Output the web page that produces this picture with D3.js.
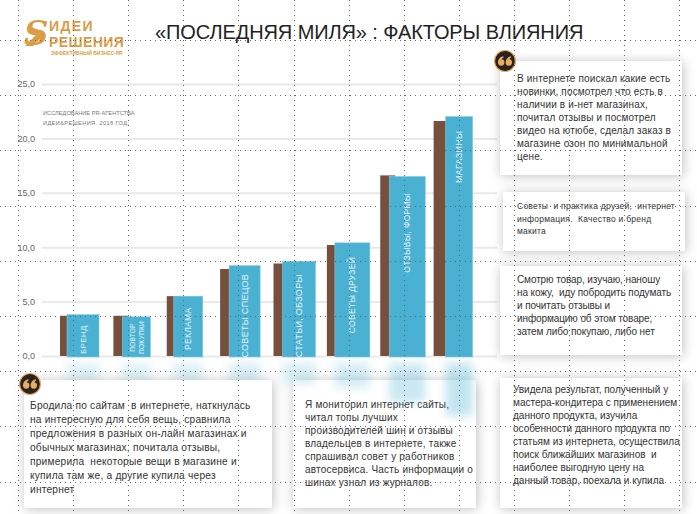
<!DOCTYPE html>
<html>
<head>
<meta charset="utf-8">
<script src="https://cdn.jsdelivr.net/npm/d3@7"></script>
<style>
  html, body { margin: 0; padding: 0; background: #fff; }
  svg { display: block; }
  text { font-family: "Liberation Sans", Arial, sans-serif; }
</style>
</head>
<body>
<div class="chart"></div>
<script>
// Chart data
var categories = ["БРЕНД", "ПОВТОР ПОКУПКИ", "РЕКЛАМА", "СОВЕТЫ СПЕЦОВ", "СТАТЬИ, ОБЗОРЫ", "СОВЕТЫ ДРУЗЕЙ", "ОТЗЫВЫ, ФОРМЫ", "МАГАЗИНЫ"];
var brownValues = [3.7, 3.7, 5.5, 8.0, 8.5, 10.2, 16.6, 21.6];
var blueValues = [3.8, 3.6, 5.5, 8.3, 8.7, 10.4, 16.5, 22.0];
var yTicks = [0, 5, 10, 15, 20, 25];

// Quotes
var quoteTopRight = ["В интернете поискал какие есть", "новинки, посмотрел что есть в", "наличии в и-нет магазинах,", "почитал отзывы и посмотрел", "видео на ютюбе, сделал заказ в", "магазине озон по минимальной", "цене."];
var quoteBrand = ["Советы  и практика друзей,  интернет", "информация.  Качество и бренд", "макита"];
var quoteSkin = ["Смотрю товар, изучаю, наношу", "на кожу,  иду побродить подумать", "и почитать отзывы и", "информацию об этом товаре,", "затем либо покупаю, либо нет"];
var quoteBaker = ["Увидела результат, полученный у", "мастера-кондитера с применением", "данного продукта, изучила", "особенности данного продукта по", "статьям из интернета, осуществила", "поиск ближайших магазинов  и", "наиболее выгодную цену на", "данный товар, поехала и купила"];
var quoteLeft = ["Бродила по сайтам  в интернете, наткнулась", "на интересную для себя вещь, сравнила", "предложения в разных он-лайн магазинах и", "обычных магазинах, почитала отзывы,", "примерила  некоторые вещи в магазине и", "купила там же, а другие купила через", "интернет"];
var quoteTyres = ["Я мониторил интернет сайты,", "читал топы лучших", "производителей шин и отзывы", "владельцев в интернете, также", "спрашивал совет у работников", "автосервиса. Часть информации о", "шинах узнал из журналов."];

var svgWidth = 697;
var svgHeight = 514;

var svg = d3.select(".chart")
  .append("svg")
  .attr("width", svgWidth)
  .attr("height", svgHeight);

var defs = svg.append("defs");

var shadow = defs.append("filter")
  .attr("id", "boxShadow")
  .attr("x", "-20%").attr("y", "-20%")
  .attr("width", "140%").attr("height", "140%");
shadow.append("feDropShadow")
  .attr("dx", 1).attr("dy", 1)
  .attr("stdDeviation", 6)
  .attr("flood-color", "#000")
  .attr("flood-opacity", 0.25);

var blur = defs.append("filter")
  .attr("id", "glow")
  .attr("x", "-50%").attr("y", "-50%")
  .attr("width", "200%").attr("height", "200%");
blur.append("feGaussianBlur").attr("stdDeviation", 5);

// Scales
var yScale = d3.scaleLinear().domain([0, 25]).range([356, 84]);
var xScale = d3.scaleBand().domain(categories).range([60, 487]).padding(0);

// each blue bar in the reference is placed by hand, so offset and width go per category
var blueOffset = d3.scaleOrdinal().domain(categories).range([7, 9, 7, 9, 9, 8, 9, 12]);
var blueWidth = d3.scaleOrdinal().domain(categories).range([32, 28, 29, 31, 33, 35, 36, 27]);
var labelLevel = d3.scaleOrdinal().domain(categories).range([1.5, 1.7, 2.5, 3.7, 3.7, 5.6, 11.3, 18.3]);
var labelSize = d3.scaleOrdinal().domain(categories).range([8, 6.5, 8.5, 9, 9, 8.5, 8.5, 9]);

// Y axis with grid lines
var leftAxis = d3.axisLeft(yScale)
  .tickValues(yTicks)
  .tickSize(-455)
  .tickPadding(7)
  .tickFormat(function(d) { return d3.format(".1f")(d).replace(".", ","); });

var axisGroup = svg.append("g")
  .attr("transform", "translate(42, 0)")
  .call(leftAxis);
axisGroup.select(".domain").remove();
axisGroup.selectAll("line")
  .attr("stroke", "#e9e9e9")
  .attr("stroke-width", 2);
axisGroup.selectAll("text")
  .attr("fill", "#666")
  .style("font-size", "9px");

// Quote boxes
function drawBox(x, y, w, h, lines, textX, firstBaseline, step, size, spacing) {
  svg.append("rect")
    .attr("x", x).attr("y", y)
    .attr("width", w).attr("height", h)
    .attr("fill", "#fff")
    .attr("filter", "url(#boxShadow)");
  svg.append("g").selectAll("text")
    .data(lines)
    .enter()
    .append("text")
    .attr("x", textX)
    .attr("y", function(d, i) { return firstBaseline + i * step; })
    .attr("fill", "#333")
    .style("white-space", "pre")
    .style("font-size", size + "px")
    .style("letter-spacing", spacing + "px")
    .text(function(d) { return d; });
}

// this box sits under the reflection, the others above it
drawBox(293, 380, 183, 128, quoteTyres, 305, 408, 13, 10, 0.2);

// Reflection under the bars
svg.append("g").selectAll("rect")
  .data(categories)
  .enter()
  .append("rect")
  .attr("x", function(d) { return xScale(d) + blueOffset(d); })
  .attr("y", yScale(0) + 7)
  .attr("width", function(d) { return blueWidth(d); })
  .attr("height", function(d, i) { return Math.max(20, (yScale(0) - yScale(blueValues[i])) * 0.22); })
  .attr("fill", "#4bb1d3")
  .attr("opacity", function(d, i) { return 0.14 + blueValues[i] * 0.009; })
  .attr("filter", "url(#glow)");

// Bars
svg.append("g").selectAll("rect")
  .data(categories)
  .enter()
  .append("rect")
  .attr("x", function(d) { return xScale(d); })
  .attr("y", function(d, i) { return yScale(brownValues[i]); })
  .attr("width", function(d) { return blueOffset(d) + 6; })
  .attr("height", function(d, i) { return yScale(0) - yScale(brownValues[i]); })
  .attr("fill", "#774f3d");

svg.append("g").selectAll("rect")
  .data(categories)
  .enter()
  .append("rect")
  .attr("x", function(d) { return xScale(d) + blueOffset(d); })
  .attr("y", function(d, i) { return yScale(blueValues[i]); })
  .attr("width", function(d) { return blueWidth(d); })
  .attr("height", function(d, i) { return yScale(0) - yScale(blueValues[i]) + 1; })
  .attr("fill", "#4bb1d3")
  .attr("stroke", "#7fcbe3")
  .attr("stroke-width", 0.6);

// Vertical labels inside the bars
categories.forEach(function(d) {
  var cx = xScale(d) + blueOffset(d) + blueWidth(d) / 2;
  var cy = yScale(labelLevel(d));
  var parts = d === "ПОВТОР ПОКУПКИ" ? d.split(" ") : [d];
  parts.forEach(function(part, i) {
    svg.append("text")
      .attr("transform", "translate(" + (cx + (i - (parts.length - 1) / 2) * 9.5 + 3) + "," + cy + ") rotate(-90)")
      .attr("text-anchor", "middle")
      .attr("fill", "#e3f3f8")
      .style("font-size", labelSize(d) + "px")
      .style("letter-spacing", "0.3px")
      .text(part);
  });
});

drawBox(500, 61, 182, 114, quoteTopRight, 517, 82, 13, 10, 0.15);
drawBox(503, 192, 182, 59, quoteBrand, 517, 209, 12.5, 8.5, 0.25);
drawBox(500, 266, 182, 89, quoteSkin, 517, 283, 13, 10, -0.1);
drawBox(500, 378, 182, 130, quoteBaker, 513, 393, 13, 10, 0);
drawBox(24, 380, 248, 128, quoteLeft, 30, 409, 14, 10.2, 0.2);

// Quote badges, the mark is two drops drawn as an icon
var quoteDrop = "M-3.2 1.5 C-3.2 -2 -0.8 -4.2 2 -4.8 L2.4 -3.6 C1.2 -3 0.6 -2.4 0.5 -1.7 A3.2 3.2 0 1 1 -3.2 1.5 Z";
[[30, 384], [505, 61]].forEach(function(c) {
  svg.append("circle")
    .attr("cx", c[0]).attr("cy", c[1]).attr("r", 10.5)
    .attr("fill", "#2b2320")
    .attr("stroke", "#e8ad62")
    .attr("stroke-width", 1.2);
  [-3.8, 3.8].forEach(function(dx) {
    svg.append("path")
      .attr("transform", "translate(" + (c[0] + dx) + "," + c[1] + ")")
      .attr("d", quoteDrop)
      .attr("fill", "#e8ad62");
  });
});

// Logo
svg.append("path")
  .attr("d", "M25 46 L40 31 L44 35 L33 46 Z")
  .attr("fill", "#dc9c46");
svg.append("text").attr("x", 24).attr("y", 45)
  .attr("fill", "#dc9c46")
  .style("font-family", "'DejaVu Serif', serif")
  .style("font-weight", "bold").style("font-style", "italic").style("font-size", "34px")
  .text("S");
svg.append("text").attr("x", 49).attr("y", 31)
  .attr("fill", "#dc9c46")
  .style("font-weight", "bold").style("font-size", "14px").style("letter-spacing", "1.4px")
  .text("ИДЕИ");
svg.append("text").attr("x", 49).attr("y", 46.5)
  .attr("fill", "#dc9c46")
  .style("font-weight", "bold").style("font-size", "14px").style("letter-spacing", "0.4px")
  .text("РЕШЕНИЯ");
svg.append("text").attr("x", 51).attr("y", 55)
  .attr("fill", "#dc9c46")
  .style("font-weight", "bold").style("font-size", "5px")
  .text("ЭФФЕКТИВНЫЙ БИЗНЕС-PR");

// Title
svg.append("text")
  .attr("x", 155).attr("y", 39)
  .attr("fill", "#222")
  .style("font-size", "20px")
  .style("letter-spacing", "-0.1px")
  .text("«ПОСЛЕДНЯЯ МИЛЯ» : ФАКТОРЫ ВЛИЯНИЯ");

// Source note
svg.append("text").attr("x", 43).attr("y", 115)
  .attr("fill", "#777").style("font-size", "5.6px").style("letter-spacing", "0.05px")
  .text("ИССЛЕДОВАНИЕ PR-АГЕНТСТВА");
svg.append("text").attr("x", 43).attr("y", 125)
  .attr("fill", "#777").style("font-size", "5.6px").style("letter-spacing", "0.4px")
  .text("ИДЕИ&РЕШЕНИЯ. 2018 ГОД.");

// Dotted guides on top of everything
var guidesX = d3.range(18, svgWidth, 55.1).map(function(d) { return Math.round(d) + 0.5; });
var guidesY = d3.range(40, svgHeight, 55.2).map(function(d) { return Math.round(d) + 0.5; });
svg.append("g").selectAll("line")
  .data(guidesX)
  .enter()
  .append("line")
  .attr("x1", function(d) { return d; })
  .attr("x2", function(d) { return d; })
  .attr("y1", 0)
  .attr("y2", svgHeight)
  .attr("stroke", "#666")
  .attr("stroke-dasharray", "1 4");
svg.append("g").selectAll("line")
  .data(guidesY)
  .enter()
  .append("line")
  .attr("x1", 0)
  .attr("x2", svgWidth)
  .attr("y1", function(d) { return d; })
  .attr("y2", function(d) { return d; })
  .attr("stroke", "#666")
  .attr("stroke-dasharray", "1 4");
</script>
</body>
</html>
